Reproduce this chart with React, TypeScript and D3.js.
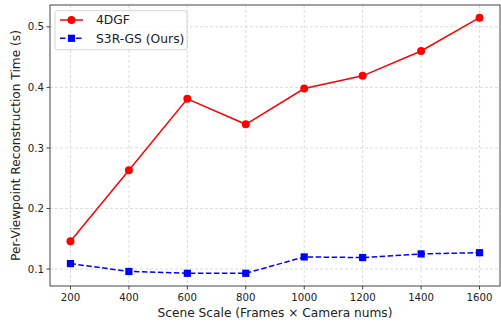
import { useEffect } from "react"
import * as d3 from "d3"

const scales = [200, 400, 600, 800, 1000, 1200, 1400, 1600]
const fourDGF = [0.146, 0.263, 0.381, 0.339, 0.398, 0.419, 0.46, 0.515]
const s3rgs = [0.109, 0.096, 0.093, 0.093, 0.12, 0.119, 0.125, 0.127]
const yTicks = [0.1, 0.2, 0.3, 0.4, 0.5]
const seriesNames = ["4DGF", "S3R-GS (Ours)"]

const W = 501
const H = 323
const margin = { top: 5, right: 1, bottom: 37, left: 50 }
const font = "'DejaVu Sans', sans-serif"

export default function App() {
    useEffect(() => {
        document.body.style.margin = "0"
    }, [])

    const innerW = W - margin.left - margin.right
    const innerH = H - margin.top - margin.bottom

    const x = d3.scaleLinear().domain([130, 1670]).range([0, innerW])
    const y = d3.scaleLinear().domain([0.072, 0.536]).range([innerH, 0])

    const line = d3
        .line<number>()
        .x((_, i) => x(scales[i]))
        .y((d) => y(d))

    const gridColor = "#d3d3d3"
    const axisColor = "#444"

    return (
        <svg width={W} height={H} style={{ display: "block" }} fontFamily={font}>
            <rect width={W} height={H} fill="#fff" />
            <g transform={`translate(${margin.left},${margin.top})`}>
                {scales.map((s) => (
                    <line
                        key={"gx" + s}
                        x1={x(s)}
                        x2={x(s)}
                        y1={0}
                        y2={innerH}
                        stroke={gridColor}
                        strokeWidth={0.8}
                        strokeDasharray="3,2"
                    />
                ))}
                {yTicks.map((t) => (
                    <line
                        key={"gy" + t}
                        x1={0}
                        x2={innerW}
                        y1={y(t)}
                        y2={y(t)}
                        stroke={gridColor}
                        strokeWidth={0.8}
                        strokeDasharray="3,2"
                    />
                ))}

                <path
                    d={line(fourDGF) || ""}
                    fill="none"
                    stroke="#ff0000"
                    strokeWidth={1.5}
                />
                {fourDGF.map((v, i) => (
                    <circle key={"c" + i} cx={x(scales[i])} cy={y(v)} r={4} fill="#ff0000" />
                ))}

                <path
                    d={line(s3rgs) || ""}
                    fill="none"
                    stroke="#0000ff"
                    strokeWidth={1.5}
                    strokeDasharray="5.5,2.5"
                />
                {s3rgs.map((v, i) => (
                    <rect
                        key={"s" + i}
                        x={x(scales[i]) - 3.6}
                        y={y(v) - 3.6}
                        width={7.2}
                        height={7.2}
                        fill="#0000ff"
                    />
                ))}

                <rect
                    x={0}
                    y={0}
                    width={innerW}
                    height={innerH}
                    fill="none"
                    stroke={axisColor}
                    strokeWidth={1}
                />

                {scales.map((s) => (
                    <g key={"tx" + s} transform={`translate(${x(s)},${innerH})`}>
                        <line y1={0} y2={3.5} stroke={axisColor} />
                        <text y={15} textAnchor="middle" fontSize={10.2} fill="#222">
                            {s}
                        </text>
                    </g>
                ))}
                {yTicks.map((t) => (
                    <g key={"ty" + t} transform={`translate(0,${y(t)})`}>
                        <line x1={0} x2={-3.5} stroke={axisColor} />
                        <text x={-6} dy="0.35em" textAnchor="end" fontSize={10.2} fill="#222">
                            {t.toFixed(1)}
                        </text>
                    </g>
                ))}

                <text
                    x={innerW / 2}
                    y={innerH + 31}
                    textAnchor="middle"
                    fontSize={12.2}
                    fill="#222"
                >
                    Scene Scale (Frames × Camera nums)
                </text>
                <text
                    transform={`translate(${-30},${innerH / 2}) rotate(-90)`}
                    textAnchor="middle"
                    fontSize={12.2}
                    fill="#222"
                >
                    Per-Viewpoint Reconstruction Time (s)
                </text>

                <g transform="translate(5,5.7)">
                    <rect
                        width={132}
                        height={39}
                        rx={2}
                        fill="#fff"
                        fillOpacity={0.8}
                        stroke="#ccc"
                        strokeWidth={0.8}
                    />
                    {seriesNames.map((name, i) => (
                        <g key={name} transform={`translate(5,${9.3 + i * 18.3})`}>
                            <line
                                x1={0}
                                x2={23}
                                stroke={i === 0 ? "#ff0000" : "#0000ff"}
                                strokeWidth={1.5}
                                strokeDasharray={i === 0 ? undefined : "5.5,2.5"}
                            />
                            {i === 0 ? (
                                <circle cx={11.5} cy={0} r={4} fill="#ff0000" />
                            ) : (
                                <rect x={7.9} y={-3.6} width={7.2} height={7.2} fill="#0000ff" />
                            )}
                            <text x={36} dy="0.35em" fontSize={12.3} fill="#222">
                                {name}
                            </text>
                        </g>
                    ))}
                </g>
            </g>
        </svg>
    )
}
